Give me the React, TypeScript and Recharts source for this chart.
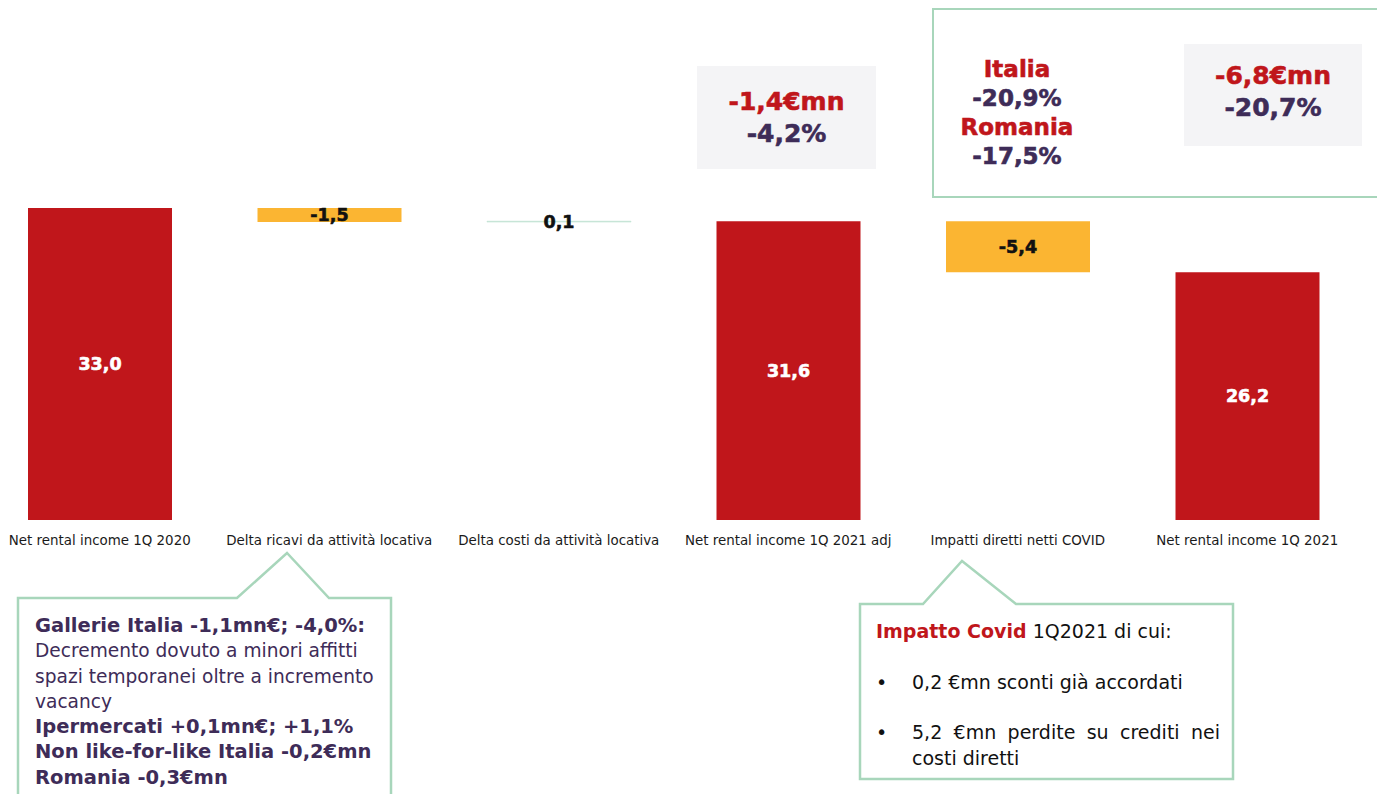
import React from "react";
import { BarChart, Bar, XAxis, YAxis, Cell, LabelList } from "recharts";

const categories = [
  "Net rental income 1Q 2020",
  "Delta ricavi da attività locativa",
  "Delta costi da attività locativa",
  "Net rental income 1Q 2021 adj",
  "Impatti diretti netti COVID",
  "Net rental income 1Q 2021",
];
const stepValues = [33.0, -1.5, 0.1, 31.6, -5.4, 26.2];
const stepKinds = ["total", "delta", "delta", "total", "delta", "total"];
const valueLabels = ["33,0", "-1,5", "0,1", "31,6", "-5,4", "26,2"];

const RED = "#C0161B";
const ORANGE = "#FBB532";
const LINEGREEN = "#BFE3D0";
const PURPLE = "#3E2C58";
const GREEN_BORDER = "#A8D6BB";
const GRAY_BOX = "#F4F4F6";

function buildData() {
  let running = 0;
  return categories.map((name, i) => {
    const v = stepValues[i];
    const kind = stepKinds[i];
    let base = 0;
    let height = 0;
    if (kind === "total") {
      base = 0;
      height = v;
      running = v;
    } else if (v < 0) {
      base = running + v;
      height = -v;
      running = running + v;
    } else {
      base = running;
      height = v;
      running = running + v;
    }
    return { name, base, height, kind, v, label: valueLabels[i] };
  });
}

const data = buildData();

function barColor(d: any) {
  if (d.kind === "total") return RED;
  if (d.v < 0) return ORANGE;
  return LINEGREEN;
}

const Tick = (props: any) => {
  const { x, y, payload } = props;
  return (
    <text
      x={x}
      y={y + 17}
      textAnchor="middle"
      fontFamily="'DejaVu Sans Condensed', 'DejaVu Sans', sans-serif"
      fontSize={14.9}
      fill="#1a1a1a"
    >
      {payload.value}
    </text>
  );
};

const ValueLabel = (props: any) => {
  const { x, y, width, height, index } = props;
  const d = data[index];
  const cx = x + width / 2;
  const cy = y + height / 2;
  return (
    <text
      x={cx}
      y={cy}
      dy="0.36em"
      textAnchor="middle"
      fontFamily="'DejaVu Sans', sans-serif"
      fontWeight="bold"
      fontSize={17.5}
      stroke={d.kind === "total" ? "#ffffff" : "#111111"}
      strokeWidth={0.6}
      fill={d.kind === "total" ? "#ffffff" : "#111111"}
    >
      {d.label}
    </text>
  );
};

const bigFont: React.CSSProperties = {
  fontFamily: "'DejaVu Sans', sans-serif",
  fontWeight: "bold",
  fontSize: 25,
  lineHeight: "32px",
  textAlign: "center",
  WebkitTextStroke: "0.6px currentColor",
};

export default function App() {
  return (
    <div
      style={{
        position: "fixed",
        left: 0,
        top: 0,
        width: 1377,
        height: 794,
        overflow: "hidden",
        background: "#ffffff",
      }}
    >
      <div style={{ position: "absolute", left: -15, top: 0 }}>
        <BarChart
          width={1377}
          height={794}
          data={data}
          margin={{ top: 189, right: 0, left: 0, bottom: 244 }}
          barSize={144}
        >
          <XAxis
            dataKey="name"
            height={30}
            axisLine={false}
            tickLine={false}
            tick={<Tick />}
            interval={0}
          />
          <YAxis hide domain={[0, 35]} />
          <Bar dataKey="base" stackId="w" fill="transparent" isAnimationActive={false} />
          <Bar dataKey="height" stackId="w" isAnimationActive={false}>
            {data.map((d, i) => (
              <Cell
                key={i}
                fill={barColor(d)}
                stroke={d.kind === "delta" && d.v > 0 ? LINEGREEN : "none"}
                strokeWidth={d.kind === "delta" && d.v > 0 ? 0.5 : 0}
              />
            ))}
            <LabelList dataKey="height" content={<ValueLabel />} />
          </Bar>
        </BarChart>
      </div>

      {/* gray annotation box 1 */}
      <div
        style={{
          position: "absolute",
          left: 697,
          top: 66,
          width: 179,
          height: 103,
          background: GRAY_BOX,
          display: "flex",
          flexDirection: "column",
          justifyContent: "center",
          alignItems: "center",
        }}
      >
        <div style={{ ...bigFont, color: RED }}>-1,4€mn</div>
        <div style={{ ...bigFont, color: PURPLE }}>-4,2%</div>
      </div>

      {/* green box */}
      <div
        style={{
          position: "absolute",
          left: 932,
          top: 8,
          width: 500,
          height: 186,
          border: `2px solid ${GREEN_BORDER}`,
          boxSizing: "content-box",
        }}
      />
      <div
        style={{
          position: "absolute",
          left: 917,
          top: 55,
          width: 200,
        }}
      >
        <div style={{ ...bigFont, fontSize: 23, lineHeight: "29px", color: RED }}>Italia</div>
        <div style={{ ...bigFont, fontSize: 23, lineHeight: "29px", color: PURPLE }}>-20,9%</div>
        <div style={{ ...bigFont, fontSize: 23, lineHeight: "29px", color: RED }}>Romania</div>
        <div style={{ ...bigFont, fontSize: 23, lineHeight: "29px", color: PURPLE }}>-17,5%</div>
      </div>

      {/* gray annotation box 2 */}
      <div
        style={{
          position: "absolute",
          left: 1184,
          top: 44,
          width: 178,
          height: 102,
          background: GRAY_BOX,
        }}
      >
        <div style={{ ...bigFont, color: RED, marginTop: 16 }}>-6,8€mn</div>
        <div style={{ ...bigFont, color: PURPLE }}>-20,7%</div>
      </div>

      {/* callout outlines */}
      <svg
        width={1377}
        height={794}
        style={{ position: "absolute", left: 0, top: 0, pointerEvents: "none" }}
      >
        <path
          d="M18,800 L18,598 L237,598 L287,553 L329,598 L391,598 L391,800"
          fill="#ffffff"
          stroke={GREEN_BORDER}
          strokeWidth={2.5}
        />
        <path
          d="M860,604 L923,604 L962,561 L1016,604 L1233,604 L1233,779 L860,779 Z"
          fill="#ffffff"
          stroke={GREEN_BORDER}
          strokeWidth={2.5}
        />
      </svg>

      {/* callout 1 text */}
      <div
        style={{
          position: "absolute",
          left: 35,
          top: 613,
          width: 350,
          fontFamily: "'DejaVu Sans', sans-serif",
          fontSize: 18.6,
          lineHeight: "25.3px",
          color: PURPLE,
        }}
      >
        <div style={{ fontWeight: "bold", fontSize: 19.5 }}>Gallerie Italia -1,1mn€; -4,0%:</div>
        <div>Decremento dovuto a minori affitti spazi temporanei oltre a incremento vacancy</div>
        <div style={{ fontWeight: "bold", fontSize: 19.5 }}>Ipermercati +0,1mn€; +1,1%</div>
        <div style={{ fontWeight: "bold", fontSize: 19.5 }}>Non like-for-like Italia -0,2€mn</div>
        <div style={{ fontWeight: "bold", fontSize: 19.5 }}>Romania -0,3€mn</div>
      </div>

      {/* callout 2 text */}
      <div
        style={{
          position: "absolute",
          left: 876,
          top: 619,
          width: 344,
          fontFamily: "'DejaVu Sans', sans-serif",
          fontSize: 19,
          lineHeight: "25.5px",
          color: "#111111",
        }}
      >
        <div>
          <span style={{ color: RED, fontWeight: "bold" }}>Impatto Covid</span> 1Q2021 di cui:
        </div>
        <div style={{ display: "flex", marginTop: 25 }}>
          <div style={{ width: 36 }}>•</div>
          <div style={{ flex: 1 }}>0,2 €mn sconti già accordati</div>
        </div>
        <div style={{ display: "flex", marginTop: 25 }}>
          <div style={{ width: 36 }}>•</div>
          <div style={{ flex: 1, textAlign: "justify" }}>5,2 €mn perdite su crediti nei costi diretti</div>
        </div>
      </div>
    </div>
  );
}
